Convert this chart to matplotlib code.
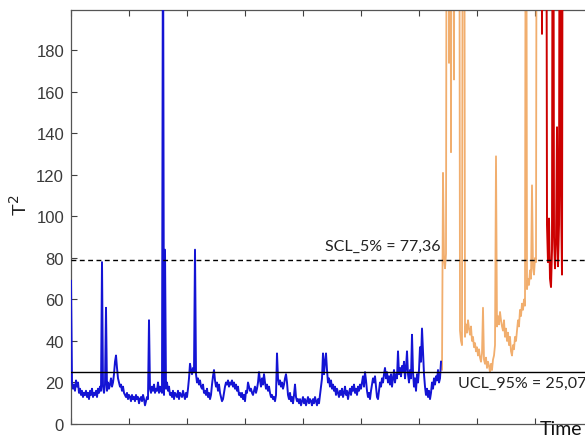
import numpy as np
import matplotlib
matplotlib.use("Agg")
import matplotlib.pyplot as plt

# ---------------- data (T^2 statistic per sample) ----------------
blue_vals = [
    69, 20, 17, 19, 16, 21, 18, 20, 15, 17,
    14, 16, 13, 15, 14, 16, 13, 15, 12, 16,
    14, 17, 13, 15, 14, 16, 13, 17, 15, 18,
    16, 78, 18, 15, 19, 56, 16, 20, 17, 19,
    22, 18, 20, 24, 30, 33, 27, 22, 20, 18,
    19, 16, 18, 15, 14, 13, 15, 12, 14, 13,
    11, 14, 12, 13, 11, 14, 12, 13, 10, 12,
    13, 11, 14, 12, 9, 11, 13, 12, 50, 17,
    15, 18, 16, 19, 15, 17, 16, 20, 15, 18,
    16, 15, 260, 14, 84, 17, 20, 16, 18, 14,
    15, 13, 16, 12, 15, 14, 13, 16, 12, 15,
    14, 13, 16, 14, 12, 15, 13, 17, 22, 29,
    26, 24, 27, 25, 84, 24, 20, 22, 19, 21,
    18, 17, 19, 15, 16, 14, 17, 13, 15, 12,
    14, 19, 23, 26, 21, 18, 20, 16, 19, 15,
    13, 11, 12, 15, 18, 20, 19, 21, 18, 20,
    19, 21, 18, 20, 17, 19, 16, 18, 14, 15,
    13, 15, 12, 14, 11, 16, 15, 20, 18, 16,
    17, 15, 14, 16, 18, 15, 17, 20, 25, 21,
    18, 22, 19, 24, 20, 17, 19, 16, 18, 15,
    13, 14, 12, 13, 11, 14, 34, 22, 19, 21,
    18, 20, 17, 19, 22, 24, 20, 14, 12, 15,
    11, 13, 10, 14, 19, 13, 11, 12, 10, 12,
    9, 11, 13, 10, 12, 9, 11, 13, 10, 12,
    11, 9, 12, 10, 13, 11, 9, 12, 10, 14,
    18, 22, 34, 24, 30, 34, 26, 20, 22, 18,
    21, 17, 19, 16, 18, 14, 17, 15, 13, 16,
    14, 17, 13, 15, 18, 14, 16, 12, 15, 17,
    14, 18, 16, 19, 15, 17, 14, 18, 16, 19,
    17, 20, 23, 18, 25, 21, 16, 13, 15, 12,
    16, 19, 22, 20, 23, 18, 13, 12, 16, 20,
    18, 22, 20, 24, 27, 22, 25, 20, 23, 19,
    24, 18, 22, 26, 20, 24, 22, 35, 24, 27,
    23, 28, 25, 30, 22, 27, 35, 24, 20, 26,
    22, 43, 25, 18, 22, 16, 24, 20, 26, 37,
    30, 46, 35, 24, 18, 14, 17, 13, 16, 12,
    15, 20, 17, 22, 19, 23, 21, 26, 20, 22, 30,
]

orange_vals = [
    30, 26, 121, 80, 75, 82, 400, 400, 174, 400,
    131, 400, 400, 166, 400, 400, 400, 400, 400, 45,
    40, 38, 400, 400, 42, 48, 44, 50, 46, 43,
    47, 40, 42, 37, 39, 35, 37, 33, 36, 32,
    30, 34, 56, 31, 29, 32, 27, 30, 28, 25,
    29, 26, 31, 33, 38, 129, 47, 52, 48, 54,
    50, 47, 45, 50, 42, 46, 40, 44, 38, 42,
    35, 33, 38, 36, 42, 40, 45, 50, 47, 55,
    52, 58, 55, 60, 57, 400, 65, 70, 67, 74,
    70, 115, 75, 72, 80, 78, 400,
]

red_vals = [
    400, 400, 400, 400, 400, 188, 400, 400, 400, 400,
    96, 78, 99, 70, 66, 84, 400, 90, 75, 88,
    143, 76, 96, 400, 110, 72, 400,
]

orange_start = len(blue_vals) - 1
red_start = orange_start + len(orange_vals) - 1

ucl_value = 25.07
scl_value = 79.0
ucl_label = "UCL_95% = 25,07"
scl_label = "SCL_5% = 77,36"

y_ticks = [0, 20, 40, 60, 80, 100, 120, 140, 160, 180]
x_ticks = [0, 58, 116, 174, 232, 290, 348, 406, 464, 522]

# ---------------- figure ----------------
W, H = 585, 439
fig = plt.figure(figsize=(W / 100, H / 100), dpi=100)
ax = fig.add_axes([71 / W, 14 / H, 580 / W, 414 / H])

tx_b = np.arange(len(blue_vals))
tx_o = orange_start + np.arange(len(orange_vals))
tx_r = red_start + np.arange(len(red_vals))

ax.plot(tx_o, orange_vals, color="#f0a55e", lw=1.3, alpha=0.9, zorder=2)
ax.plot(tx_r, red_vals, color="#cc0000", lw=1.4, zorder=3)
ax.plot(tx_b, blue_vals, color="#1414d4", lw=1.4, zorder=4)

ax.axhline(ucl_value, color="black", lw=1.0, zorder=5)
ax.axhline(scl_value, color="black", lw=1.0, ls=(0, (3.5, 2.5)), zorder=5)

ax.set_xlim(0, 580)
ax.set_ylim(0, 199.5)
ax.set_yticks(y_ticks)
ax.set_xticks(x_ticks)
ax.set_xticklabels([])
ax.tick_params(axis="both", direction="in", length=4, width=0.8, color="#404040",
               labelsize=12, labelcolor="#3a3a3a", top=True)
ax.tick_params(axis="y", pad=5)
for lab in ax.get_yticklabels():
    lab.set_fontfamily("Liberation Sans")
for s in ["left", "top", "bottom"]:
    ax.spines[s].set_color("#555555")
    ax.spines[s].set_linewidth(0.9)
ax.spines["right"].set_visible(False)

fig.text(20 / W, 1 - 205 / H, "T$^2$", rotation=90, ha="center", va="center",
         fontsize=14, family="Liberation Sans", color="#222222")

fig.text(383 / W, 1 - 247 / H, scl_label, ha="center", va="center",
         fontsize=11.5, family="Lato", color="#222222")
fig.text(522 / W, 1 - 384 / H, ucl_label, ha="center", va="center",
         fontsize=11.5, family="Lato", color="#222222")
fig.text(582 / W, 1 / H, "Time", ha="right", va="bottom",
         fontsize=14, family="Lato", color="#111111")

fig.savefig("out.png", dpi=100)
